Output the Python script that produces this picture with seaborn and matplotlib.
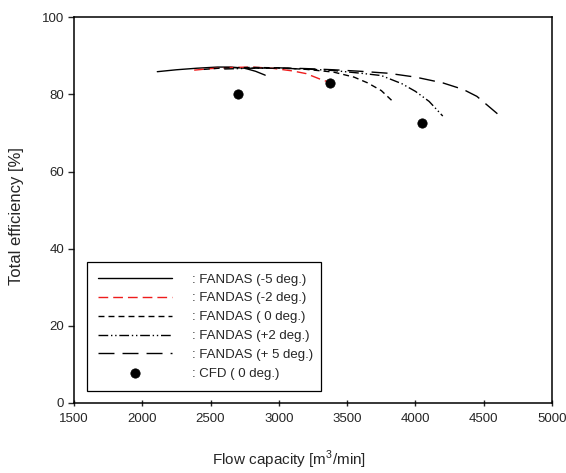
import matplotlib
matplotlib.use('Agg')
import matplotlib.pyplot as plt
import seaborn as sns

# FANDAS curves
flow_m5 = [2110, 2250, 2400, 2550, 2650, 2750, 2830, 2900]
eff_m5 = [85.9, 86.4, 86.8, 87.1, 87.1, 86.8, 86.0, 85.0]

flow_m2 = [2380, 2500, 2650, 2800, 2950, 3100, 3200, 3300, 3430]
eff_m2 = [86.3, 86.7, 87.0, 87.1, 86.8, 86.1, 85.4, 84.0, 82.4]

flow_0 = [2450, 2600, 2800, 3000, 3200, 3400, 3550, 3650, 3750, 3825]
eff_0 = [86.5, 86.9, 87.0, 86.9, 86.5, 85.8, 84.5, 83.0, 81.0, 78.5]

flow_p2 = [2600, 2800, 3000, 3200, 3400, 3600, 3750, 3900, 4000, 4100, 4200]
eff_p2 = [86.6, 86.8, 86.8, 86.6, 86.2, 85.5, 84.9, 82.8, 80.8, 78.2, 74.4]

flow_p5 = [2800, 3000, 3200, 3400, 3600, 3800, 4000, 4200, 4350, 4450, 4550, 4600]
eff_p5 = [86.8, 86.9, 86.7, 86.4, 86.0, 85.5, 84.5, 83.0, 81.3, 79.5, 76.5, 75.0]

# CFD points
cfd_flow = [2700, 3375, 4045]
cfd_eff = [80.0, 83.0, 72.6]

x_ticks = [1500, 2000, 2500, 3000, 3500, 4000, 4500, 5000]
y_ticks = [0, 20, 40, 60, 80, 100]

sns.set_style('ticks')
plt.rcParams['font.family'] = ['Liberation Sans', 'DejaVu Sans']
plt.rcParams['mathtext.fontset'] = 'custom'
plt.rcParams['mathtext.rm'] = 'Liberation Sans'

fig = plt.figure(figsize=(5.66, 4.73), dpi=100)
ax = fig.add_axes([0.1307, 0.148, 0.8446, 0.8154])

series = [
    (flow_m5, eff_m5, ': FANDAS (-5 deg.)', 'black', '-'),
    (flow_m2, eff_m2, ': FANDAS (-2 deg.)', '#ee1c1c', (0, (7, 3.6))),
    (flow_0, eff_0, ': FANDAS ( 0 deg.)', 'black', (0, (4.3, 2.9))),
    (flow_p2, eff_p2, ': FANDAS (+2 deg.)', 'black', (0, (7, 2, 1, 2, 1, 2))),
    (flow_p5, eff_p5, ': FANDAS (+ 5 deg.)', 'black', (0, (11.5, 5.8))),
]
for fx, fy, name, col, ls in series:
    sns.lineplot(x=fx, y=fy, ax=ax, color=col, linestyle=ls, linewidth=1.0,
                 sort=False, estimator=None, label=name, legend=False)

sns.scatterplot(x=cfd_flow, y=cfd_eff, ax=ax, color='black', edgecolor='black',
                s=45, label=': CFD ( 0 deg.)', legend=False, zorder=5)

ax.set_xlim(1500, 5000)
ax.set_ylim(0, 100)
ax.set_xticks(x_ticks)
ax.set_yticks(y_ticks)
ax.tick_params(axis='x', direction='inout', length=5, width=1, labelsize=9.5, pad=5)
ax.tick_params(axis='y', direction='out', length=4, width=1, labelsize=9.5, pad=3)
for s in ax.spines.values():
    s.set_visible(True)
    s.set_color('black')
    s.set_linewidth(1.1)

ax.set_xlabel('Flow capacity [m$^3$/min]', fontsize=11)
ax.xaxis.set_label_coords(0.45, -0.118)
ax.set_ylabel('Total efficiency [%]', fontsize=12)
ax.yaxis.set_label_coords(-0.105, 0.484)

h, l = ax.get_legend_handles_labels()
leg = ax.legend(h, l, loc='lower left', bbox_to_anchor=(0.027, 0.031, 0.49, 0.34),
                mode='expand', borderaxespad=0, fontsize=9.5, handlelength=5.6,
                handletextpad=1.5, labelspacing=0.5, borderpad=0.85,
                frameon=True, fancybox=False, edgecolor='black', framealpha=1)
leg.get_frame().set_linewidth(0.9)

fig.savefig('out.png', dpi=100)
